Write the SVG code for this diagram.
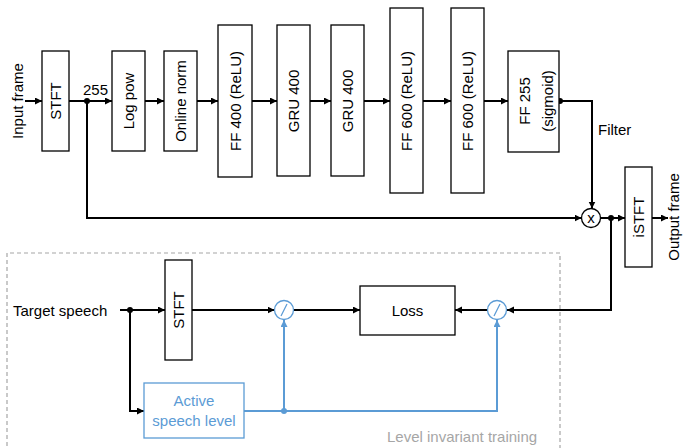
<svg xmlns="http://www.w3.org/2000/svg" width="683" height="448" viewBox="0 0 683 448">
<style>
.box{fill:#fff;stroke:#000;stroke-width:1.3}
.bbox{fill:#fff;stroke:#5B9BD5;stroke-width:1.3}
.t{font-family:"Liberation Sans",Arial,sans-serif;font-size:15px;fill:#000}
.bt{font-family:"Liberation Sans",Arial,sans-serif;font-size:15px;fill:#5B9BD5}
.gt{font-family:"Liberation Sans",Arial,sans-serif;font-size:15px;fill:#A6A6A6}
.w{fill:none;stroke:#000;stroke-width:2}
.bw{fill:none;stroke:#5B9BD5;stroke-width:2}
</style>
<defs>
<marker id="a" markerUnits="userSpaceOnUse" markerWidth="8" markerHeight="8" refX="7" refY="3.5" orient="auto"><path d="M0,0 L7,3.5 L0,7 z" fill="#000"/></marker>
<marker id="ab" markerUnits="userSpaceOnUse" markerWidth="8" markerHeight="8" refX="7" refY="3.5" orient="auto"><path d="M0,0 L7,3.5 L0,7 z" fill="#5B9BD5"/></marker>
</defs>
<path d="M7,460 V253 H560 V460" fill="none" stroke="#A6A6A6" stroke-width="1.2" stroke-dasharray="4,3"/>
<text class="gt" x="387" y="442">Level invariant training</text>
<g id="connectors">
<path class="w" d="M25,101 H42" marker-end="url(#a)"/>
<path class="w" d="M69,101 H112" marker-end="url(#a)"/>
<path class="w" d="M145,101 H164" marker-end="url(#a)"/>
<path class="w" d="M197,101 H218" marker-end="url(#a)"/>
<path class="w" d="M252,101 H277" marker-end="url(#a)"/>
<path class="w" d="M310,101 H331" marker-end="url(#a)"/>
<path class="w" d="M364,101 H390" marker-end="url(#a)"/>
<path class="w" d="M423,101 H451" marker-end="url(#a)"/>
<path class="w" d="M484,101 H508" marker-end="url(#a)"/>
<path class="w" d="M559,101 H592 V208.5" marker-end="url(#a)"/>
<path class="w" d="M87,101 V218 H581.5" marker-end="url(#a)"/>
<path class="w" d="M600.5,218 H625" marker-end="url(#a)"/>
<path class="w" d="M652,218 H668" marker-end="url(#a)"/>
<path class="w" d="M611,218 V310 H507" marker-end="url(#a)"/>
<path class="w" d="M487.5,310 H455" marker-end="url(#a)"/>
<path class="w" d="M120,310 H165" marker-end="url(#a)"/>
<path class="w" d="M130,310 V411 H144" marker-end="url(#a)"/>
<path class="w" d="M192,310 H274.5" marker-end="url(#a)"/>
<path class="w" d="M293.5,310 H360" marker-end="url(#a)"/>
<path class="bw" d="M244,411 H497 V320" marker-end="url(#ab)"/>
<path class="bw" d="M284,411 V320" marker-end="url(#ab)"/>
<circle cx="87" cy="101" r="3" fill="#000"/>
<circle cx="560" cy="101" r="3" fill="#000"/>
<circle cx="611" cy="218" r="3" fill="#000"/>
<circle cx="130" cy="310" r="3" fill="#000"/>
<circle cx="284" cy="411" r="3" fill="#5B9BD5"/>
</g>
<text class="t" transform="translate(23,101) rotate(-90)" text-anchor="middle">Input frame</text>
<text class="t" x="83" y="95">255</text>
<text class="t" x="598" y="135">Filter</text>
<text class="t" transform="translate(679,217) rotate(-90)" text-anchor="middle">Output frame</text>
<text class="t" x="13" y="316">Target speech</text>
<g id="stft"><rect class="box" x="42" y="51" width="27" height="100"/><text class="t" transform="translate(60.5,101) rotate(-90)" text-anchor="middle">STFT</text></g>
<g id="logpow"><rect class="box" x="112" y="51" width="33" height="100"/><text class="t" transform="translate(133.5,101) rotate(-90)" text-anchor="middle">Log pow</text></g>
<g id="onlinenorm"><rect class="box" x="164" y="51" width="33" height="100"/><text class="t" transform="translate(185.5,101) rotate(-90)" text-anchor="middle">Online norm</text></g>
<g id="ff400"><rect class="box" x="218" y="25" width="34" height="152"/><text class="t" transform="translate(240.5,101) rotate(-90)" text-anchor="middle">FF 400 (ReLU)</text></g>
<g id="gru1"><rect class="box" x="277" y="25" width="33" height="151"/><text class="t" transform="translate(298.5,101) rotate(-90)" text-anchor="middle">GRU 400</text></g>
<g id="gru2"><rect class="box" x="331" y="25" width="33" height="151"/><text class="t" transform="translate(352.5,101) rotate(-90)" text-anchor="middle">GRU 400</text></g>
<g id="ff600a"><rect class="box" x="390" y="8" width="33" height="185"/><text class="t" transform="translate(412,101) rotate(-90)" text-anchor="middle">FF 600 (ReLU)</text></g>
<g id="ff600b"><rect class="box" x="451" y="8" width="33" height="185"/><text class="t" transform="translate(473,101) rotate(-90)" text-anchor="middle">FF 600 (ReLU)</text></g>
<g id="ff255"><rect class="box" x="508" y="51" width="51" height="101"/><text class="t" transform="translate(530,101) rotate(-90)" text-anchor="middle">FF 255</text><text class="t" transform="translate(553,101) rotate(-90)" text-anchor="middle">(sigmoid)</text></g>
<g id="mult"><circle cx="591" cy="218" r="9.5" fill="#fff" stroke="#000" stroke-width="1.3"/><text class="t" x="591" y="222.5" text-anchor="middle">x</text></g>
<g id="istft"><rect class="box" x="625" y="167" width="27" height="100"/><text class="t" transform="translate(644,217) rotate(-90)" text-anchor="middle">iSTFT</text></g>
<g id="stft2"><rect class="box" x="165" y="260" width="27" height="100"/><text class="t" transform="translate(184,310) rotate(-90)" text-anchor="middle">STFT</text></g>
<g id="div1"><circle cx="284" cy="310" r="9.5" fill="#fff" stroke="#5B9BD5" stroke-width="1.3"/><line x1="281" y1="316" x2="287" y2="304" stroke="#5B9BD5" stroke-width="1.3"/></g>
<g id="loss"><rect class="box" x="360" y="286" width="95" height="49"/><text class="t" x="407.5" y="315.5" text-anchor="middle">Loss</text></g>
<g id="div2"><circle cx="497" cy="310" r="9.5" fill="#fff" stroke="#5B9BD5" stroke-width="1.3"/><line x1="494" y1="316" x2="500" y2="304" stroke="#5B9BD5" stroke-width="1.3"/></g>
<g id="asl"><rect class="bbox" x="144" y="383" width="100" height="55"/><text class="bt" x="194" y="406" text-anchor="middle">Active</text><text class="bt" x="194" y="426" text-anchor="middle">speech level</text></g>
</svg>
